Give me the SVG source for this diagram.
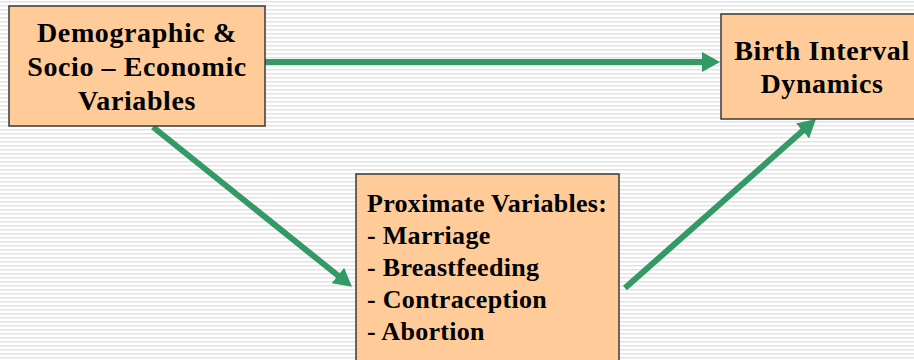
<svg xmlns="http://www.w3.org/2000/svg" width="914" height="360" viewBox="0 0 914 360">
  <defs>
    <pattern id="stripes" x="0" y="0" width="8" height="4" patternUnits="userSpaceOnUse">
      <rect x="0" y="0" width="8" height="4" fill="#ffffff"/>
      <rect x="0" y="1" width="8" height="1.5" fill="#e3e3e3"/>
    </pattern>
    <marker id="arrow" viewBox="0 0 18 20" refX="4" refY="10" markerWidth="18" markerHeight="20" markerUnits="userSpaceOnUse" orient="auto">
      <path d="M0,0 L18,10 L0,20 Z" fill="#339966"/>
    </marker>
  </defs>
  <style>
    .box { fill: #ffcc99; stroke: #3a3a3a; stroke-width: 1.5; }
    text { font-family: 'Liberation Serif', 'DejaVu Serif', serif; font-weight: bold; fill: #000; }
    .big { font-size: 28px; text-anchor: middle; letter-spacing: 0.6px; }
    .small { font-size: 26px; letter-spacing: 0.3px; }
    .conn { stroke: #339966; stroke-width: 6; fill: none; marker-end: url(#arrow); }
  </style>
  <rect x="0" y="0" width="914" height="360" fill="url(#stripes)"/>

  <g id="connectors">
    <line class="conn" x1="265" y1="62" x2="706" y2="62"/>
    <line class="conn" x1="153" y1="127" x2="341" y2="278"/>
    <line class="conn" x1="625" y1="288" x2="805.5" y2="128.3"/>
  </g>

  <g id="demographic">
    <rect class="box" x="9" y="6" width="256" height="120"/>
    <text class="big" x="137" y="42">Demographic &amp;</text>
    <text class="big" x="137" y="76">Socio – Economic</text>
    <text class="big" x="137" y="110">Variables</text>
  </g>

  <g id="birth-interval">
    <rect class="box" x="721" y="14" width="200" height="105"/>
    <text class="big" x="822" y="60">Birth Interval</text>
    <text class="big" x="822" y="93">Dynamics</text>
  </g>

  <g id="proximate">
    <rect class="box" x="356" y="174" width="263" height="200"/>
    <text class="small" x="367" y="212">Proximate Variables:</text>
    <text class="small" x="367" y="244">- Marriage</text>
    <text class="small" x="367" y="276">- Breastfeeding</text>
    <text class="small" x="367" y="308">- Contraception</text>
    <text class="small" x="367" y="340">- Abortion</text>
  </g>
</svg>
